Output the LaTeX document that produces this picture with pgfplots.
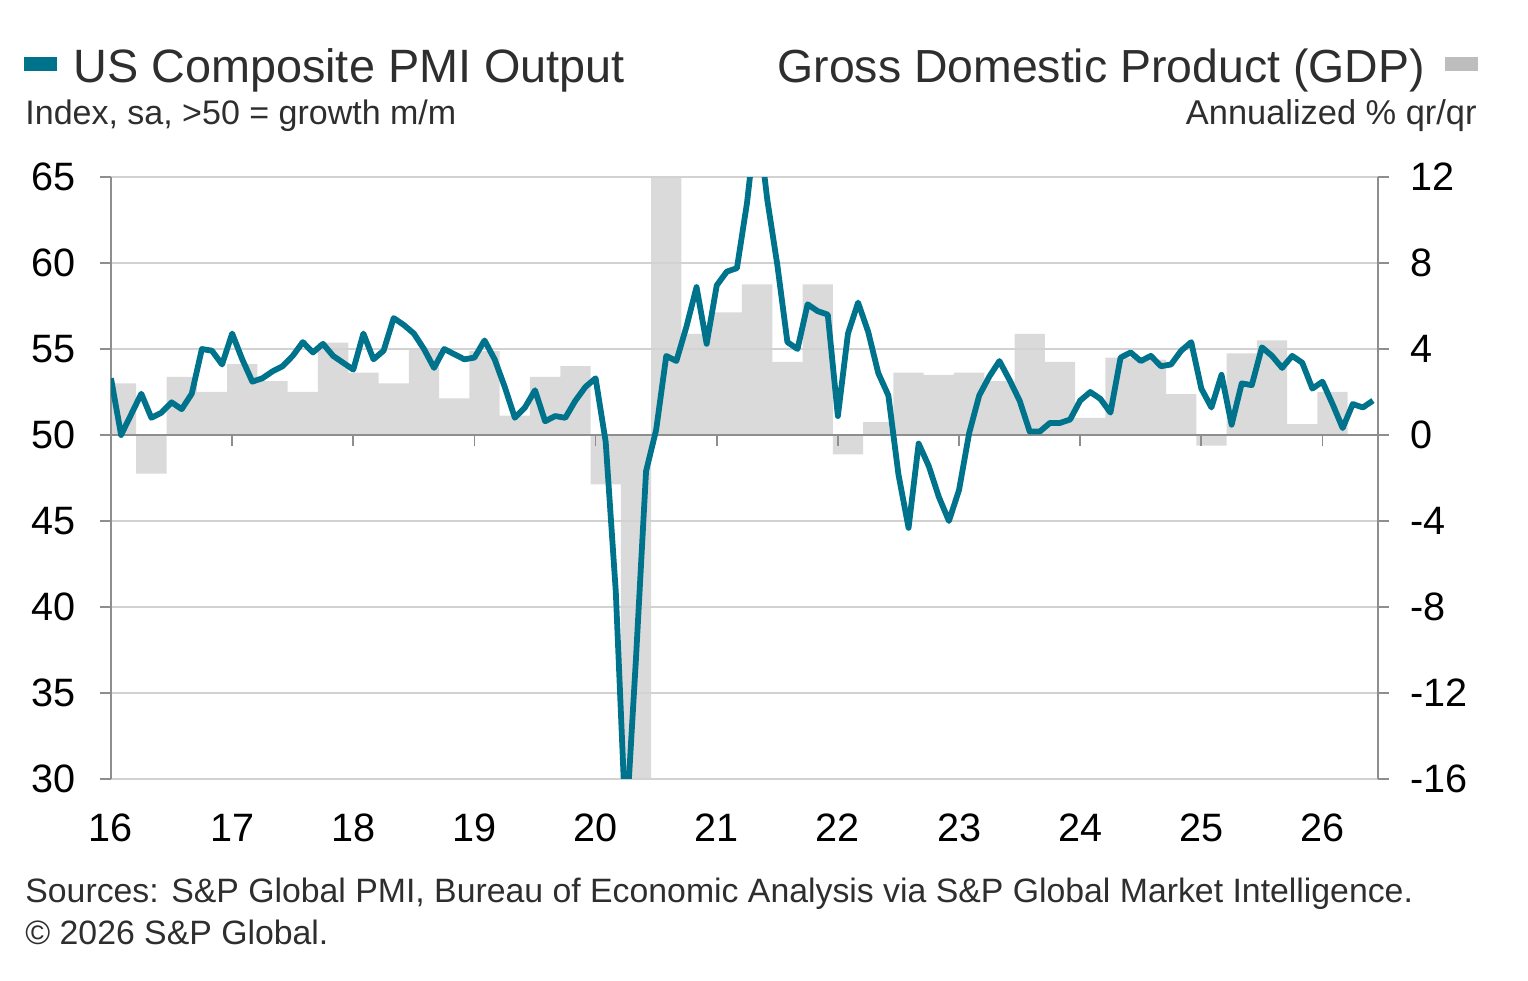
\documentclass[border=0pt]{standalone}
\usepackage{pgfplots}
\pgfplotsset{compat=1.18}
\usepackage{fontspec}
\setmainfont{Liberation Sans}
\definecolor{pmiteal}{HTML}{00738C}
\definecolor{gdpgray}{HTML}{DADADA}
\definecolor{gdplegend}{HTML}{BDBDBD}
\definecolor{gridgray}{HTML}{D2D2D2}
\definecolor{axisgray}{HTML}{8E8E8E}
\definecolor{txt}{HTML}{2E2E2E}
\begin{document}
\begin{tikzpicture}
\useasboundingbox (0,0) rectangle (764pt,490.5pt);
% ---------- GDP axis (bars, right scale) ----------
\begin{axis}[
  at={(55.5pt,101pt)}, anchor=south west,
  scale only axis, width=633.5pt, height=301pt,
  xmin=0, xmax=125.5, ymin=-16, ymax=12,
  axis on top,
  axis y line*=right, axis x line*=middle,
  xtick={0,12,...,120}, xticklabels={},
  ytick={-16,-12,...,12},
  tick align=outside, major tick length=5.5pt,
  x axis line style={axisgray, line width=0.9pt},
  y axis line style={axisgray, line width=0.9pt},
  tick style={axisgray, line width=0.9pt},
  ymajorgrids, major grid style={gridgray, line width=0.8pt},
  yticklabel style={font=\fontsize{19.8}{22}\selectfont, text=black, xshift=7pt},
  /pgf/number format/assume math mode=true,
]
\addplot[ybar, bar width=3, bar shift=0pt, fill=gdpgray, draw=none] coordinates {
(1,2.4) (4,-1.8) (7,2.7) (10,2.0) (13,3.3) (16,2.5) (19,2.0) (22,4.3)
(25,2.9) (28,2.4) (31,4.0) (34,1.7) (37,3.9) (40,0.9) (43,2.7) (46,3.2)
(49,-2.3) (52,-28.0) (55,35.0) (58,4.7) (61,5.7) (64,7.0) (67,3.4) (70,7.0)
(73,-0.9) (76,0.6) (79,2.9) (82,2.8) (85,2.9) (88,2.5) (91,4.7) (94,3.4)
(97,0.8) (100,3.6) (103,3.5) (106,1.9) (109,-0.5) (112,3.8) (115,4.4) (118,0.5)
(121,2.0)
};
\end{axis}
% ---------- PMI axis (line, left scale) ----------
\begin{axis}[
  at={(55.5pt,101pt)}, anchor=south west,
  scale only axis, width=633.5pt, height=301pt,
  xmin=0, xmax=125.5, ymin=30, ymax=65,
  axis y line*=left, axis x line*=bottom,
  x axis line style={draw=none},
  xtick={0,12,...,120},
  xticklabels={16,17,18,19,20,21,22,23,24,25,26},
  xtick style={draw=none},
  ytick={30,35,...,65},
  tick align=outside, major tick length=5.5pt,
  y axis line style={axisgray, line width=0.9pt},
  ytick style={axisgray, line width=0.9pt},
  ticklabel style={font=\fontsize{19.8}{22}\selectfont, text=black},
  yticklabel style={xshift=-8.5pt},
  xticklabel style={yshift=-8.5pt},
  /pgf/number format/assume math mode=true,
]
\addplot[pmiteal, line width=2.9pt, line join=round] coordinates {
(0,53.3) (1,50.0) (2,51.2) (3,52.4) (4,51.0) (5,51.3) (6,51.9) (7,51.5)
(8,52.4) (9,55.0) (10,54.9) (11,54.1) (12,55.9) (13,54.4) (14,53.1) (15,53.3)
(16,53.7) (17,54.0) (18,54.6) (19,55.4) (20,54.8) (21,55.3) (22,54.6) (23,54.2)
(24,53.8) (25,55.9) (26,54.4) (27,54.9) (28,56.8) (29,56.4) (30,55.9) (31,55.0)
(32,53.9) (33,55.0) (34,54.7) (35,54.4) (36,54.5) (37,55.5) (38,54.4) (39,52.8)
(40,51.0) (41,51.6) (42,52.6) (43,50.8) (44,51.1) (45,51.0) (46,52.0) (47,52.8)
(48,53.3) (49,49.6) (50,40.9) (51,27.0) (52,37.0) (53,47.9) (54,50.3) (55,54.6)
(56,54.3) (57,56.3) (58,58.6) (59,55.3) (60,58.7) (61,59.5) (62,59.7) (63,63.5)
(64,68.7) (65,63.7) (66,59.9) (67,55.4) (68,55.0) (69,57.6) (70,57.2) (71,57.0)
(72,51.1) (73,55.9) (74,57.7) (75,56.0) (76,53.6) (77,52.3) (78,47.7) (79,44.6)
(80,49.5) (81,48.2) (82,46.4) (83,45.0) (84,46.8) (85,50.1) (86,52.3) (87,53.4)
(88,54.3) (89,53.2) (90,52.0) (91,50.2) (92,50.2) (93,50.7) (94,50.7) (95,50.9)
(96,52.0) (97,52.5) (98,52.1) (99,51.3) (100,54.5) (101,54.8) (102,54.3) (103,54.6)
(104,54.0) (105,54.1) (106,54.9) (107,55.4) (108,52.7) (109,51.6) (110,53.5) (111,50.6)
(112,53.0) (113,52.9) (114,55.1) (115,54.6) (116,53.9) (117,54.6) (118,54.2) (119,52.7)
(120,53.1) (121,51.8) (122,50.4) (123,51.8) (124,51.6) (125,52.0)
};
\end{axis}
% ---------- titles and legend keys ----------
\fill[pmiteal] (12pt,455pt) rectangle (28.5pt,462pt);
\node[anchor=base west, inner sep=0, text=txt, font=\fontsize{23.4}{28}\selectfont] at (36.5pt,449pt) {US Composite PMI Output};
\node[anchor=base west, inner sep=0, text=txt, font=\fontsize{17}{20}\selectfont] at (12.5pt,428pt) {Index, sa, >50 = growth m/m};
\node[anchor=base east, inner sep=0, text=txt, font=\fontsize{23.2}{28}\selectfont] at (712.5pt,449pt) {Gross Domestic Product (GDP)};
\fill[gdplegend] (722.5pt,455pt) rectangle (739pt,462pt);
\node[anchor=base east, inner sep=0, text=txt, font=\fontsize{17.2}{20}\selectfont] at (738.5pt,428pt) {Annualized \% qr/qr};
% ---------- sources ----------
\node[anchor=base west, inner sep=0, text=txt, font=\fontsize{16.9}{20}\selectfont] at (12.5pt,39pt) {Sources: S\&P Global PMI, Bureau of Economic Analysis via S\&P Global Market Intelligence.};
\node[anchor=base west, inner sep=0, text=txt, font=\fontsize{16.9}{20}\selectfont] at (12.5pt,18pt) {\textcopyright{} 2026 S\&P Global.};
\end{tikzpicture}
\end{document}
